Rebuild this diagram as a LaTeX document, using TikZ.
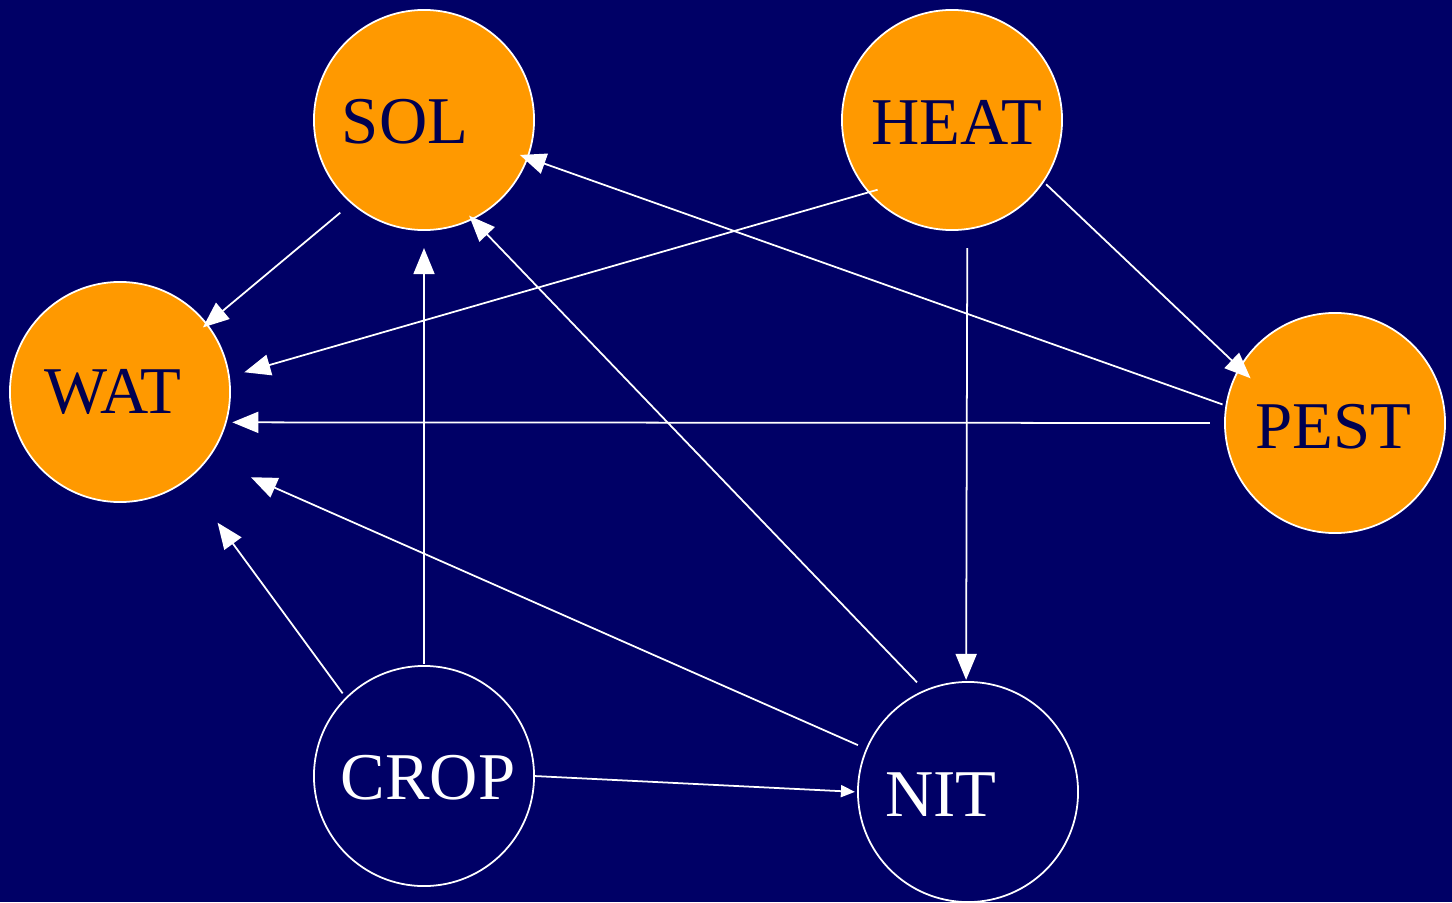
\documentclass[tikz,border=0pt]{standalone}
\usepackage{fontspec}
\setmainfont{Liberation Serif}
\usetikzlibrary{arrows.meta}
\definecolor{navy}{RGB}{0,0,102}
\definecolor{amber}{RGB}{255,153,0}
\definecolor{ink}{RGB}{0,0,80}
\begin{document}
\begin{tikzpicture}[x=0.01cm,y=0.01cm,
    hot/.style={circle,draw=white,line width=0.5pt,fill=amber,minimum size=2.2cm,inner sep=0pt,outer sep=0pt},
    cool/.style={circle,draw=white,line width=0.5pt,fill=navy,minimum size=2.2cm,inner sep=0pt,outer sep=0pt},
    lbl/.style={inner sep=0pt,font=\fontsize{19pt}{19pt}\selectfont},
    arr/.style={white,line width=0.5pt,-{Triangle[length=0.26cm,width=0.21cm]}}]
\fill[navy] (0,0) rectangle (1452,902);
\useasboundingbox (0,0) rectangle (1452,902);
% the six circles
\node[hot] (sol) at (424,782) {};
\node[hot] (heat) at (952,782) {};
\node[hot] (wat) at (120,510) {};
\node[hot] (pest) at (1335,479) {};
\node[cool] (crop) at (424,126) {};
\node[cool] (nit) at (968,110) {};
\node[lbl,text=ink] (sol-l) at (405,780) {SOL};
\node[lbl,text=ink] (heat-l) at (957,780) {HEAT};
\node[lbl,text=ink] (wat-l) at (113,510) {WAT};
\node[lbl,text=ink] (pest-l) at (1333,475) {PEST};
\node[lbl,text=white] (crop-l) at (428,124) {CROP};
\node[lbl,text=white] (nit-l) at (941,107) {NIT};
% links
\draw[arr,shorten <=0.15cm,shorten >=-0.05cm] (sol.229) -- (wat.38);
\draw[arr,shorten <=-0.09cm,shorten >=0.16cm] (heat.221) -- (wat.8);
\draw[arr,shorten <=0.04cm,shorten >=-0.08cm] (pest.171) -- (sol.-20);
\draw[arr,shorten <=0.04cm,shorten >=-0.15cm] (heat.-34) -- (pest.150);
\draw[arr,shorten <=0.19cm,shorten >=0.02cm] (heat.-82) -- (nit.91);
\draw[arr,shorten <=0.15cm,shorten >=0.065cm] (pest.180) -- (wat.-16);
\draw[arr,shorten <=0.02cm,shorten >=0.18cm] (crop.90) -- (sol.270);
\draw[arr,shorten <=0.115cm,shorten >=-0.045cm] (nit.113) -- (sol.-64);
\draw[arr,shorten <=0.096cm,shorten >=0.47cm] (nit.157) -- (wat.-37);
\draw[arr,shorten <=0.06cm,shorten >=0.53cm] (crop.135) -- (wat.-53);
\draw[white,line width=0.5pt,-{Triangle[length=0.14cm,width=0.12cm]},shorten <=0.01cm,shorten >=0.03cm] (crop.0) -- (nit.180);
\end{tikzpicture}
\end{document}
